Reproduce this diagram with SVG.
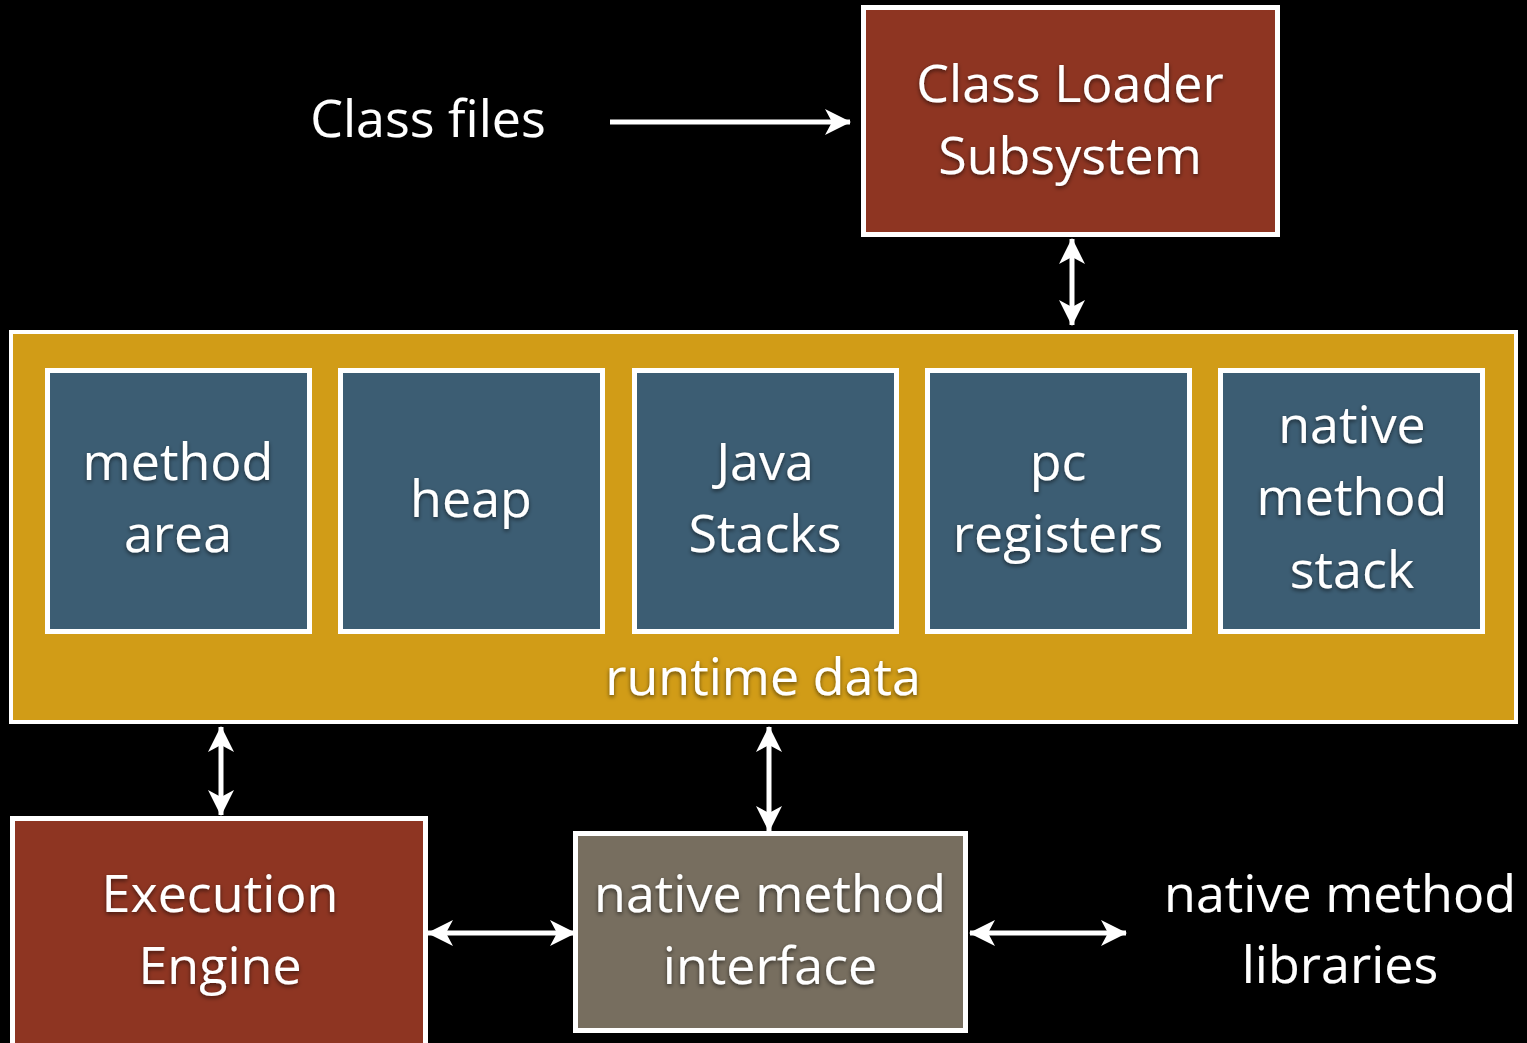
<svg xmlns="http://www.w3.org/2000/svg" width="1527" height="1043" viewBox="0 0 1527 1043">
<style>
.t{font-family:"Open Sans","Noto Sans",sans-serif;font-size:52px;fill:#fff;text-anchor:middle;filter:url(#sh)}
.red{fill:#8E3522;stroke:#fff;stroke-width:5}
.gold{fill:#D19C17;stroke:#fff;stroke-width:4}
.blue{fill:#3C5D73;stroke:#fff;stroke-width:5}
.grey{fill:#776E5F;stroke:#fff;stroke-width:5}
.c{stroke:#fff;stroke-width:5;fill:none}
</style>
<defs>
<filter id="sh" x="-10%" y="-20%" width="120%" height="140%">
<feDropShadow dx="0" dy="2" stdDeviation="2" flood-color="#000" flood-opacity="0.55"/>
</filter>
<marker id="ah" viewBox="0 0 26 26" refX="25" refY="13" markerWidth="26" markerHeight="26" markerUnits="userSpaceOnUse" orient="auto-start-reverse">
<path d="M0,0 L26,13 L0,26 L7,13 Z" fill="#fff"/>
</marker>
</defs>
<rect width="1527" height="1043" fill="#000"/>
<g id="connectors">
<line class="c" x1="610" y1="122" x2="850" y2="122" marker-end="url(#ah)"/>
<line class="c" x1="1072" y1="239" x2="1072" y2="325" marker-start="url(#ah)" marker-end="url(#ah)"/>
<line class="c" x1="221" y1="727" x2="221" y2="815" marker-start="url(#ah)" marker-end="url(#ah)"/>
<line class="c" x1="769" y1="727" x2="769" y2="831" marker-start="url(#ah)" marker-end="url(#ah)"/>
<line class="c" x1="428" y1="933" x2="575" y2="933" marker-start="url(#ah)" marker-end="url(#ah)"/>
<line class="c" x1="970" y1="933" x2="1126" y2="933" marker-start="url(#ah)" marker-end="url(#ah)"/>
</g>
<g id="class-files"><text class="t" x="428" y="137">Class files</text></g>
<g id="class-loader">
<rect class="red" x="863.5" y="7.5" width="414" height="227"/>
<text class="t" x="1070" y="102">Class Loader</text>
<text class="t" x="1070" y="174">Subsystem</text>
</g>
<g id="runtime-data">
<rect class="gold" x="11" y="332" width="1505" height="390"/>
<text class="t" x="763" y="695">runtime data</text>
</g>
<g id="method-area">
<rect class="blue" x="47.5" y="370.5" width="262" height="261"/>
<text class="t" x="178" y="480">method</text>
<text class="t" x="178" y="552">area</text>
</g>
<g id="heap">
<rect class="blue" x="340.5" y="370.5" width="262" height="261"/>
<text class="t" x="471" y="517">heap</text>
</g>
<g id="java-stacks">
<rect class="blue" x="634.5" y="370.5" width="262" height="261"/>
<text class="t" x="765" y="480">Java</text>
<text class="t" x="765" y="552">Stacks</text>
</g>
<g id="pc-registers">
<rect class="blue" x="927.5" y="370.5" width="262" height="261"/>
<text class="t" x="1058" y="480">pc</text>
<text class="t" x="1058" y="552">registers</text>
</g>
<g id="native-method-stack">
<rect class="blue" x="1220.5" y="370.5" width="262" height="261"/>
<text class="t" x="1352" y="443">native</text>
<text class="t" x="1352" y="515">method</text>
<text class="t" x="1352" y="588">stack</text>
</g>
<g id="execution-engine">
<rect class="red" x="12.5" y="818.5" width="413" height="240"/>
<text class="t" x="220" y="912">Execution</text>
<text class="t" x="220" y="984">Engine</text>
</g>
<g id="native-method-interface">
<rect class="grey" x="575.5" y="833.5" width="390" height="197"/>
<text class="t" x="770" y="912">native method</text>
<text class="t" x="770" y="984">interface</text>
</g>
<g id="native-method-libraries">
<text class="t" x="1340" y="912">native method</text>
<text class="t" x="1340" y="983">libraries</text>
</g>
</svg>
